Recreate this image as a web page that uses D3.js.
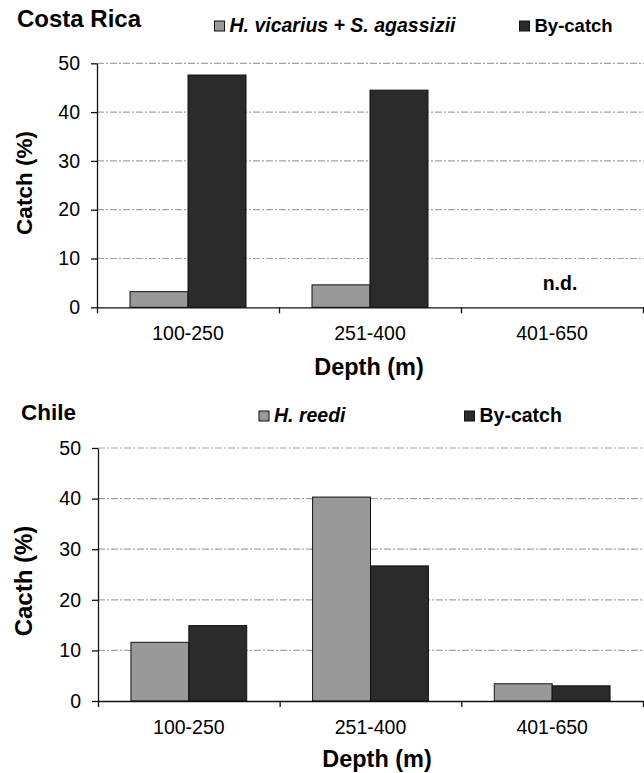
<!DOCTYPE html>
<html>
<head>
<meta charset="utf-8">
<script src="https://cdn.jsdelivr.net/npm/d3@7/dist/d3.min.js"></script>
<style>
  html, body { margin: 0; padding: 0; background: #fff; }
  svg { display: block; font-family: "Liberation Sans", Arial, sans-serif; }
</style>
</head>
<body>
<svg id="chart" width="644" height="773"></svg>
<script>
// ---- data ----
const depths = ["100-250", "251-400", "401-650"];
const seriesKeys = ["target", "bycatch"];
const crTarget = [3.2, 4.6, null];
const crBycatch = [47.6, 44.5, null];
const chTarget = [11.6, 40.3, 3.4];
const chBycatch = [14.9, 26.7, 3.0];
const yTicks = [0, 10, 20, 30, 40, 50];
const crLegend = ["H. vicarius + S. agassizii", "By-catch"];
const chLegend = ["H. reedi", "By-catch"];

const colors = { target: "#999999", bycatch: "#2b2b2b" };
const svg = d3.select("#chart");

function panel(o) {
  const g = svg.append("g");
  const x0 = d3.scaleBand().domain(depths).range([o.left, o.right]).padding(0);
  const x1 = d3.scaleBand().domain(seriesKeys).range([0, x0.bandwidth()])
    .paddingInner(0).paddingOuter(0.569);
  const y = d3.scaleLinear().domain([0, 50]).range([o.bottom, o.top]);

  // gridlines
  g.append("g").selectAll("line").data(yTicks.filter(d => d > 0)).join("line")
    .attr("x1", o.left).attr("x2", o.right + 1)
    .attr("y1", d => y(d)).attr("y2", d => y(d))
    .attr("stroke", "#a3a3a3").attr("stroke-width", 1.2)
    .attr("stroke-dasharray", "7,2,2,2");

  // bars
  const rows = depths.map((d, i) => ({ depth: d, target: o.target[i], bycatch: o.bycatch[i] }));
  g.append("g").selectAll("g").data(rows).join("g")
    .attr("transform", d => `translate(${x0(d.depth)},0)`)
    .selectAll("rect")
    .data(d => seriesKeys.filter(k => d[k] != null).map(k => ({ key: k, value: d[k] })))
    .join("rect")
    .attr("x", d => x1(d.key)).attr("width", x1.bandwidth())
    .attr("y", d => y(d.value)).attr("height", d => y(0) - y(d.value))
    .attr("fill", d => colors[d.key]).attr("stroke", "#111").attr("stroke-width", 1);

  // y axis
  const ya = g.append("g").attr("transform", `translate(${o.left},0)`)
    .call(d3.axisLeft(y).tickValues(yTicks).tickSize(6).tickSizeOuter(0).tickPadding(11));
  ya.select(".domain").attr("stroke", "#111").attr("stroke-width", 1.3);
  ya.selectAll(".tick line").attr("stroke", "#111").attr("stroke-width", 1.3);
  ya.selectAll("text").attr("font-size", o.tickFont).attr("fill", "#000");

  // x axis (boundary ticks)
  const xb = d3.scaleLinear().domain([0, depths.length]).range([o.left, o.right]);
  const xa = g.append("g").attr("transform", `translate(0,${o.bottom})`)
    .call(d3.axisBottom(xb).tickValues(d3.range(depths.length + 1)).tickSize(6).tickSizeOuter(0).tickFormat(""));
  xa.select(".domain").attr("stroke", "#111").attr("stroke-width", 1.3);
  xa.selectAll(".tick line").attr("stroke", "#111").attr("stroke-width", 1.3);

  // category labels
  const xl = g.append("g").attr("transform", `translate(0,${o.bottom})`)
    .call(d3.axisBottom(x0).tickSize(0).tickPadding(19));
  xl.select(".domain").remove();
  xl.selectAll("text").attr("font-size", o.tickFont).attr("fill", "#000");

  // axis titles
  g.append("text").attr("x", o.xTitleX).attr("y", o.xTitleY)
    .attr("text-anchor", "middle").attr("font-weight", "bold").attr("font-size", o.titleFont)
    .text("Depth (m)");
  g.append("text").attr("transform", `translate(${o.yTitleX},${o.yTitleY}) rotate(-90)`)
    .attr("text-anchor", "middle").attr("font-weight", "bold").attr("font-size", o.yTitleFont)
    .text(o.yTitle);

  // panel title
  g.append("text").attr("x", o.nameX).attr("y", o.nameY)
    .attr("font-weight", "bold").attr("font-size", o.nameFont).text(o.name);

  // legend
  o.legend.forEach((lab, i) => {
    const lx = o.legendX[i];
    g.append("rect").attr("x", lx).attr("y", o.legendY - 10.5).attr("width", 10).attr("height", 10)
      .attr("fill", colors[seriesKeys[i]]).attr("stroke", "#111").attr("stroke-width", 1);
    g.append("text").attr("x", lx + 15).attr("y", o.legendY)
      .attr("font-weight", "bold").attr("font-style", i === 0 ? "italic" : "normal")
      .attr("font-size", o.legendFont[i]).text(lab);
  });

  if (o.nd) {
    g.append("text").attr("x", 560).attr("y", o.bottom - 17)
      .attr("text-anchor", "middle").attr("font-weight", "bold").attr("font-size", 19.5)
      .text("n.d.");
  }
}

panel({
  left: 97, right: 643, top: 63.3, bottom: 307.3,
  target: crTarget, bycatch: crBycatch,
  tickFont: 19.5, titleFont: 23.5, yTitleFont: 22.5, nameFont: 24,
  xTitleX: 369, xTitleY: 374.5, yTitleX: 32, yTitleY: 183, yTitle: "Catch (%)",
  name: "Costa Rica", nameX: 17, nameY: 26.7,
  legend: crLegend, legendX: [214.5, 519.5], legendY: 31.5, legendFont: [19.5, 18.5],
  nd: true
});

panel({
  left: 98, right: 643, top: 448, bottom: 701,
  target: chTarget, bycatch: chBycatch,
  tickFont: 19.5, titleFont: 23.5, yTitleFont: 24, nameFont: 22.5,
  xTitleX: 377, xTitleY: 766.5, yTitleX: 32, yTitleY: 581, yTitle: "Cacth (%)",
  name: "Chile", nameX: 21, nameY: 419.5,
  legend: chLegend, legendX: [259, 464.5], legendY: 421.5, legendFont: [19.5, 19.5],
  nd: false
});
</script>
</body>
</html>
